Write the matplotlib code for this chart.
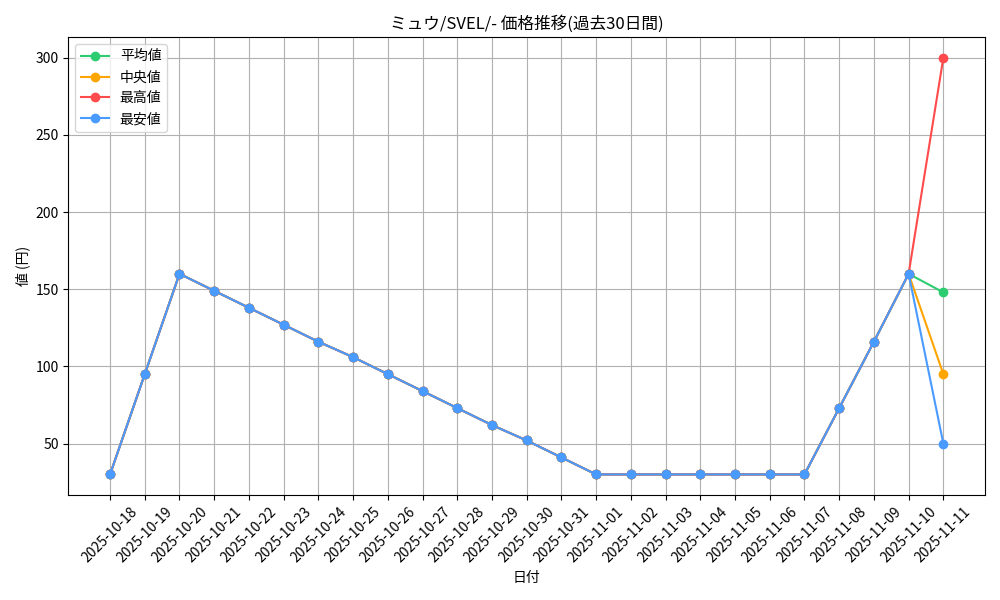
import matplotlib
matplotlib.use("Agg")
from matplotlib import pyplot as plt

plt.rcParams["font.family"] = ["Noto Sans CJK JP", "DejaVu Sans"]

dates = ["2025-10-18", "2025-10-19", "2025-10-20", "2025-10-21", "2025-10-22",
         "2025-10-23", "2025-10-24", "2025-10-25", "2025-10-26", "2025-10-27",
         "2025-10-28", "2025-10-29", "2025-10-30", "2025-10-31", "2025-11-01",
         "2025-11-02", "2025-11-03", "2025-11-04", "2025-11-05", "2025-11-06",
         "2025-11-07", "2025-11-08", "2025-11-09", "2025-11-10", "2025-11-11"]

common = [30, 95, 160, 149, 138, 127, 116, 106, 95, 84, 73, 62, 52, 41,
          30, 30, 30, 30, 30, 30, 30, 73, 116, 160]

avg_vals = common + [148]
median_vals = common + [95]
max_vals = common + [300]
min_vals = common + [50]

fig, ax = plt.subplots(figsize=(10, 6), dpi=100)

ax.plot(dates, avg_vals, marker="o", color="#2ECC71", label="平均値")
ax.plot(dates, median_vals, marker="o", color="#FFA500", label="中央値")
ax.plot(dates, max_vals, marker="o", color="#FF4B4B", label="最高値")
ax.plot(dates, min_vals, marker="o", color="#4A9BFF", label="最安値")

ax.set_title("ミュウ/SVEL/- 価格推移(過去30日間)")
ax.set_xlabel("日付")
ax.set_ylabel("値 (円)")
ax.grid(True)
ax.legend(loc="upper left")
plt.setp(ax.get_xticklabels(), rotation=45)

fig.tight_layout()
fig.savefig("out.png")
